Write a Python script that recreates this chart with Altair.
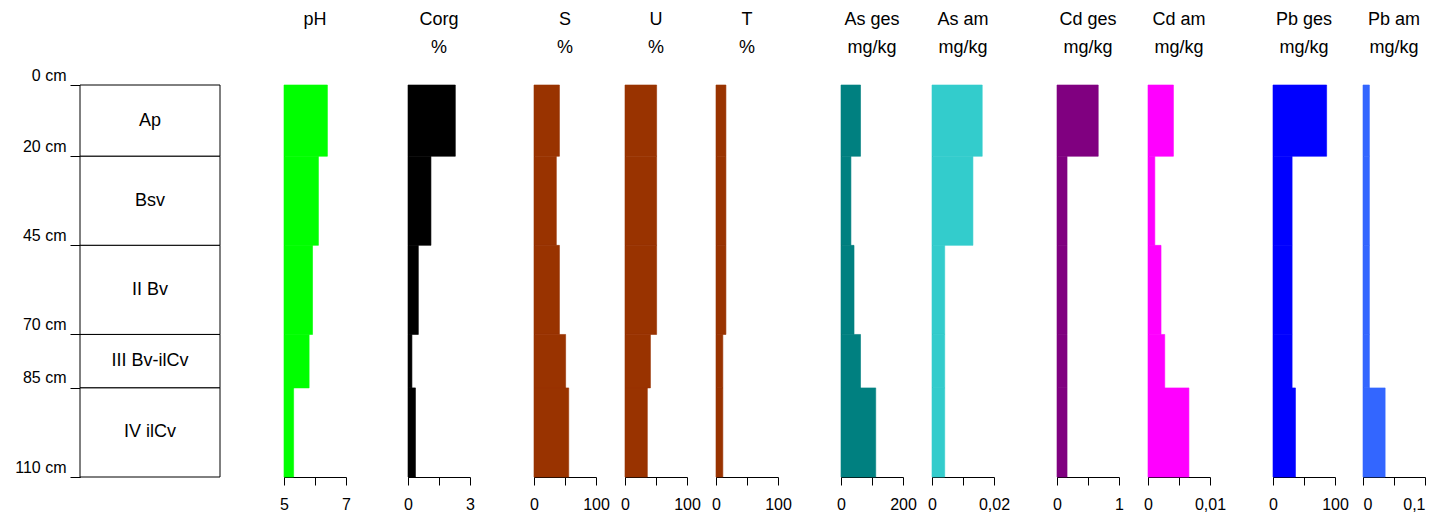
import altair as alt
import pandas as pd

# Soil profile (depth intervals in cm)
depth_top = [0, 20, 45, 70, 85]
depth_bottom = [20, 45, 70, 85, 110]
horizons = ["Ap", "Bsv", "II Bv", "III Bv-ilCv", "IV ilCv"]
depth_ticks = [0, 20, 45, 70, 85, 110]

# Parameters
names = ["pH", "Corg", "S", "U", "T", "As ges", "As am", "Cd ges", "Cd am", "Pb ges", "Pb am"]
units = [" ", "%", "%", "%", "%", "mg/kg", "mg/kg", "mg/kg", "mg/kg", "mg/kg", "mg/kg"]
colors = ["#00FF00", "#000000", "#993300", "#993300", "#993300", "#008080",
          "#33CCCC", "#800080", "#FF00FF", "#0000FF", "#3366FF"]
axis_min = [5, 0, 0, 0, 0, 0, 0, 0, 0, 0, 0]
axis_max = [7, 3, 100, 100, 100, 200, 0.02, 1, 0.01, 100, 0.1]

ph = [6.40, 6.11, 5.92, 5.81, 5.31]
corg = [2.29, 1.11, 0.50, 0.19, 0.36]
sand = [41, 36, 41, 51, 56]
silt = [51, 51, 51, 41, 36]
clay = [16, 16, 16, 11, 11]
as_ges = [63, 32, 42, 63, 112]
as_am = [0.0162, 0.0132, 0.0041, 0.0041, 0.0041]
cd_ges = [0.665, 0.162, 0.162, 0.162, 0.162]
cd_am = [0.0041, 0.0011, 0.0021, 0.0027, 0.0066]
pb_ges = [86.5, 30.8, 30.8, 30.8, 36.2]
pb_am = [0.0103, 0.0103, 0.0103, 0.0103, 0.0357]
series = [ph, corg, sand, silt, clay, as_ges, as_am, cd_ges, cd_am, pb_ges, pb_am]

FONT = "Liberation Sans"
H = 392
PANEL_W = 62
PROFILE_W = 140
gaps = [64, 62, 64, 29, 29, 63, 29, 63, 29, 63, 28]

yscale = alt.Scale(domain=[0, 110], reverse=True, nice=False, zero=False)
prof_axis = alt.Axis(
    values=depth_ticks, labelExpr="datum.value + ' cm'", title=None, grid=False,
    tickSize=10, labelPadding=4, labelFontSize=16, labelColor="black",
    domainColor="black", tickColor="black", labelBaseline="alphabetic",
    labelOffset=-5, labelFont=FONT)

# Profile column
prof_df = pd.DataFrame({
    "top": depth_top, "bottom": depth_bottom, "name": horizons,
    "mid": [(a + b) / 2 for a, b in zip(depth_top, depth_bottom)],
    "x0": 0, "x1": 1, "xm": 0.5,
})
xs_prof = alt.Scale(domain=[0, 1], nice=False, zero=False)
prof_rect = alt.Chart(prof_df).mark_rect(fill="white", stroke="black", strokeWidth=1).encode(
    x=alt.X("x0:Q", scale=xs_prof, axis=None),
    x2="x1:Q",
    y=alt.Y("top:Q", scale=yscale, axis=prof_axis),
    y2="bottom:Q",
)
prof_text = alt.Chart(prof_df).mark_text(fontSize=18, font=FONT, color="black").encode(
    x=alt.X("xm:Q", scale=xs_prof, axis=None),
    y=alt.Y("mid:Q", scale=yscale, axis=prof_axis),
    text="name:N",
)
profile = alt.layer(prof_rect, prof_text).properties(width=PROFILE_W, height=H)


def spacer(w):
    return alt.Chart(pd.DataFrame({"v": [0]})).mark_point(opacity=0).encode(
        x=alt.X("v:Q", axis=None), y=alt.Y("v:Q", axis=None)
    ).properties(width=w, height=H)


def panel(i):
    lo, hi = axis_min[i], axis_max[i]
    mid = (lo + hi) / 2
    df = pd.DataFrame({"top": depth_top, "bottom": depth_bottom,
                       "value": series[i], "lo": lo})
    label_expr = f"datum.value == {mid} ? '' : replace(format(datum.value, '~g'), '.', ',')"
    return alt.Chart(df).mark_rect(color=colors[i], stroke=colors[i], strokeWidth=0.6).encode(
        x=alt.X("lo:Q", scale=alt.Scale(domain=[lo, hi], nice=False, zero=False),
                axis=alt.Axis(values=[lo, mid, hi], labelExpr=label_expr, title=None,
                              grid=False, domainColor="black", tickColor="black",
                              tickSize=8, labelFontSize=16, labelPadding=11,
                              labelColor="black", labelFont=FONT,
                              labelFlush=(i == len(names) - 1))),
        x2="value:Q",
        y=alt.Y("top:Q", scale=yscale, axis=alt.Axis(
            title=None, ticks=False, labels=False, grid=False, domainColor="black")),
        y2="bottom:Q",
    ).properties(
        width=PANEL_W, height=H,
        title=alt.TitleParams(text=[names[i], units[i]], fontSize=18, font=FONT,
                              fontWeight="normal", color="black", lineHeight=28,
                              anchor="middle", offset=28),
    )


items = [profile]
for i in range(len(names)):
    items.append(spacer(gaps[i]))
    items.append(panel(i))

chart = alt.hconcat(*items, spacing=0, bounds="flush").properties(
    padding={"left": 6, "top": 2, "right": 0, "bottom": 0}
).configure(font=FONT).configure_view(stroke=None)

chart.save("out.html", embed_options={"renderer": "svg", "actions": False})
